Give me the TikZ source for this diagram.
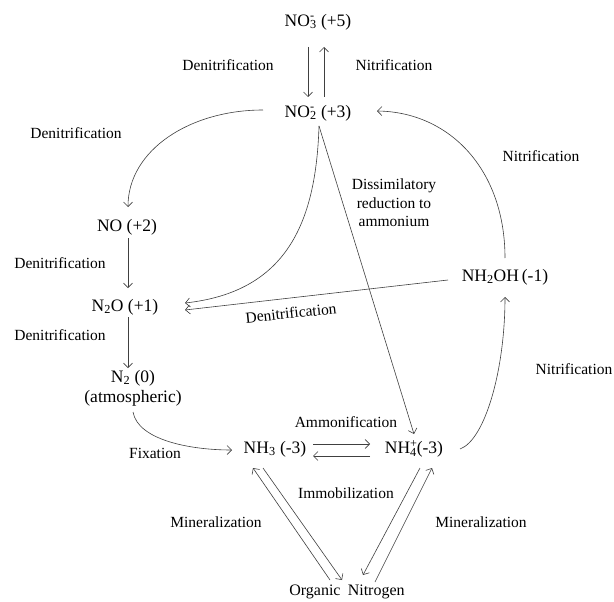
\documentclass[tikz,border=0pt]{standalone}
\usepackage{fontspec}
\setmainfont{Liberation Serif}
\usetikzlibrary{arrows.meta}
\newcommand\mysupsub[2]{\rlap{\textsuperscript{#2}}\textsubscript{#1}}
\begin{document}
\begin{tikzpicture}[x=1pt,y=-1pt,
  chem/.style={inner sep=0pt, font=\fontsize{17.5}{20}\selectfont, text=black},
  lbl/.style={inner sep=0pt, font=\fontsize{15.5}{18.5}\selectfont, text=black},
  arr/.style={draw=black!75, line width=0.6pt, -{Straight Barb[length=4.5pt,width=9pt,line width=0.6pt]}},
  ln/.style={draw=black!75, line width=0.6pt}]
\useasboundingbox (0,0) rectangle (614,602);
\fill[white] (0,0) rectangle (614,602);

% species
\node[chem] (no3) at (318,22) {NO\mysupsub{3}{-} (+5)};
\node[chem] (no2) at (318,113) {NO\mysupsub{2}{-} (+3)};
\node[chem] (no) at (127,227) {NO (+2)};
\node[chem] (n2o) at (125,307) {N\textsubscript{2}O (+1)};
\node[chem, align=center] (n2) at (133,388) {N\textsubscript{2} (0)\\(atmospheric)};
\node[chem] (nh2oh) at (505,277) {NH\textsubscript{2}OH\,(-1)};
\node[chem] (nh3) at (275,449) {NH\textsubscript{3} (-3)};
\node[chem] (nh4) at (414,449) {NH\mysupsub{4}{+}(-3)};
\node[lbl, font=\fontsize{16}{18}\selectfont] (org) at (347,592) {Organic\hspace{0.45em}Nitrogen};

% process labels
\node[lbl] (l1) at (228,65) {Denitrification};
\node[lbl] (l2) at (394,65) {Nitrification};
\node[lbl] (l3) at (76,133) {Denitrification};
\node[lbl] (l4) at (60,263) {Denitrification};
\node[lbl] (l5) at (60,335) {Denitrification};
\node[lbl, rotate=6] (l6) at (291,313) {Denitrification};
\node[lbl] (l7) at (541,156) {Nitrification};
\node[lbl, align=center] (l8) at (394,203) {Dissimilatory\\reduction to\\ammonium};
\node[lbl] (l9) at (574,369) {Nitrification};
\node[lbl] (l10) at (346,422) {Ammonification};
\node[lbl] (l11) at (155,453) {Fixation};
\node[lbl] (l12) at (346,493) {Immobilization};
\node[lbl] (l13) at (216,522) {Mineralization};
\node[lbl] (l14) at (481,522) {Mineralization};

% connector end points
\coordinate (a1s) at (308,47);  \coordinate (a1e) at (308,97);
\coordinate (a2s) at (324,97);  \coordinate (a2e) at (324,47);
\coordinate (c1s) at (263,110); \coordinate (c1e) at (128,207);
\coordinate (apex) at (319,126);
\coordinate (c2e) at (185,303);
\coordinate (dre) at (414,434);
\coordinate (c3s) at (505,258); \coordinate (c3e) at (377,111);
\coordinate (c4s) at (460,449); \coordinate (c4e) at (505,297);
\coordinate (ls) at (448,280);  \coordinate (le) at (185,310);
\coordinate (d1s) at (128,238); \coordinate (d1e) at (128,288);
\coordinate (d2s) at (128,317); \coordinate (d2e) at (128,368);
\coordinate (fs) at (133,412);  \coordinate (fe) at (232,450);
\coordinate (h1s) at (313,444); \coordinate (h1e) at (370,444);
\coordinate (h2s) at (370,456); \coordinate (h2e) at (313,456);
\coordinate (m1s) at (330,580); \coordinate (m1e) at (253,468);
\coordinate (m2s) at (263,468); \coordinate (m2e) at (342,580);
\coordinate (m3s) at (420,468); \coordinate (m3e) at (363,575);
\coordinate (m4s) at (375,582); \coordinate (m4e) at (432,468);

% connectors
\draw[arr] (a1s) -- (a1e);
\draw[arr] (a2s) -- (a2e);
\draw[arr] (c1s) .. controls (190,110) and (128,150) .. (c1e);
\draw[arr] (apex) .. controls (316,225) and (285,292) .. (c2e);
\draw[arr] (apex) -- (dre);
\draw[arr] (c3s) .. controls (505,170) and (450,112) .. (c3e);
\draw[arr] (c4s) .. controls (485,440) and (505,370) .. (c4e);
\draw[arr] (ls) -- (le);
\draw[arr] (d1s) -- (d1e);
\draw[arr] (d2s) -- (d2e);
\draw[arr] (fs) .. controls (138,440) and (190,450) .. (fe);
\draw[arr] (h1s) -- (h1e);
\draw[arr] (h2s) -- (h2e);
\draw[arr] (m1s) -- (m1e);
\draw[arr] (m2s) -- (m2e);
\draw[arr] (m3s) -- (m3e);
\draw[arr] (m4s) -- (m4e);
\end{tikzpicture}
\end{document}
